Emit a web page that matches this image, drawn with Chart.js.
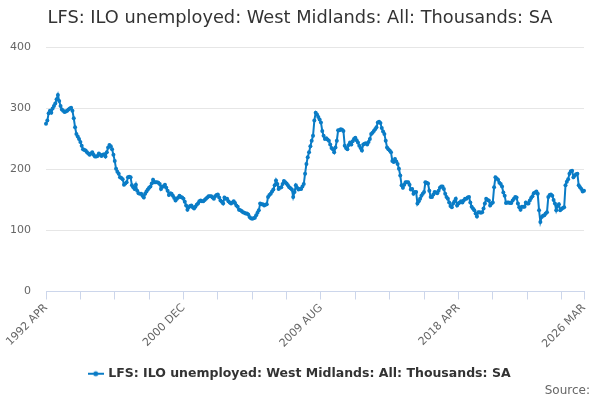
<!DOCTYPE html>
<html>
<head>
<meta charset="utf-8">
<script src="https://cdn.jsdelivr.net/npm/chart.js@4.4.1/dist/chart.umd.min.js"></script>
<style>
  html, body { margin: 0; padding: 0; background: #fff; }
  #wrap { width: 600px; height: 400px; }
</style>
</head>
<body>
<div id="wrap"><canvas id="chart" width="600" height="400"></canvas></div>
<script>
var seriesName = 'LFS: ILO unemployed: West Midlands: All: Thousands: SA';
var months = ['JAN','FEB','MAR','APR','MAY','JUN','JUL','AUG','SEP','OCT','NOV','DEC'];
var startYear = 1992, startMonth = 3; // 1992 APR
var yTicks = [0, 100, 200, 300, 400];

// monthly values, one row per year starting in April
var unemployed = [
  275, 280, 292, 296, 293, 300, 304, 308, 315, 322, 312, 304,
  298, 296, 294, 295, 296, 298, 300, 301, 296, 284, 269, 258,
  254, 250, 245, 239, 233, 232, 231, 228, 226, 224, 226, 228,
  224, 221, 221, 222, 226, 224, 222, 224, 225, 221, 228, 236,
  240, 238, 233, 224, 214, 201, 196, 193, 187, 186, 184, 175,
  177, 179, 187, 188, 187, 174, 171, 168, 175, 165, 161, 160,
  160, 157, 154, 160, 164, 167, 170, 172, 177, 183, 179, 179,
  179, 178, 176, 168, 172, 172, 175, 170, 165, 158, 161, 160,
  157, 153, 149, 152, 154, 157, 155, 154, 152, 147, 141, 134,
  138, 140, 141, 138, 136, 139, 142, 144, 148, 149, 148, 148,
  150, 152, 154, 156, 156, 156, 154, 152, 156, 158, 159, 154,
  149, 147, 144, 154, 152, 152, 148, 146, 144, 146, 148, 145,
  141, 139, 134, 133, 132, 130, 129, 128, 128, 126, 122, 120,
  119, 120, 121, 125, 129, 133, 144, 143, 143, 141, 142, 143,
  155, 158, 160, 164, 167, 174, 182, 176, 168, 170, 171, 176,
  181, 179, 177, 174, 171, 169, 167, 155, 163, 174, 170, 167,
  168, 168, 172, 176, 193, 209, 220, 228, 238, 247, 255, 280,
  293, 290, 286, 282, 277, 263, 255, 250, 251, 249, 247, 241,
  235, 233, 228, 236, 247, 264, 264, 266, 265, 263, 239, 235,
  233, 240, 244, 241, 246, 250, 252, 248, 244, 239, 235, 231,
  241, 242, 243, 241, 245, 250, 258, 260, 263, 266, 269, 277,
  278, 276, 268, 262, 258, 247, 236, 233, 231, 228, 214, 212,
  217, 213, 209, 201, 190, 174, 170, 175, 179, 179, 179, 175,
  167, 168, 160, 163, 163, 144, 148, 152, 157, 160, 163, 179,
  178, 177, 165, 155, 155, 159, 163, 162, 161, 165, 170, 172,
  172, 168, 160, 155, 152, 146, 140, 138, 144, 148, 152, 141,
  144, 146, 148, 146, 149, 152, 152, 154, 155, 146, 139, 136,
  133, 128, 123, 130, 130, 129, 130, 136, 144, 152, 150, 149,
  141, 144, 146, 171, 187, 185, 183, 178, 176, 172, 162, 157,
  145, 146, 146, 145, 145, 149, 152, 155, 154, 144, 138, 134,
  139, 139, 139, 146, 144, 144, 149, 153, 156, 161, 162, 164,
  160, 133, 114, 122, 124, 125, 128, 130, 155, 158, 159, 157,
  150, 144, 133, 140, 143, 133, 135, 137, 138, 174, 180, 184,
  193, 197, 198, 187, 190, 192, 193, 174, 171, 168, 164, 165
];

var labels = [];
for (var i = 0; i < unemployed.length; i++) {
  var m = startMonth + i;
  labels.push((startYear + Math.floor(m / 12)) + ' ' + months[m % 12]);
}
var lastIdx = labels.length - 1;

var lineColor = '#0a7cc6';

// little line + dot used as the legend symbol
var legendIcon = document.createElement('canvas');
legendIcon.width = 16; legendIcon.height = 8;
(function(){
  var c = legendIcon.getContext('2d');
  c.strokeStyle = lineColor; c.lineWidth = 2;
  c.beginPath(); c.moveTo(0, 4); c.lineTo(16, 4); c.stroke();
  c.fillStyle = lineColor;
  c.beginPath(); c.arc(8, 4, 2.5, 0, Math.PI * 2); c.fill();
})();

var sourcePlugin = {
  id: 'sourceText',
  afterDraw: function(chart){
    var c = chart.ctx;
    c.save();
    c.font = '12px "DejaVu Sans"';
    c.fillStyle = '#666666';
    c.textAlign = 'right';
    c.textBaseline = 'alphabetic';
    c.fillText('Source:', 590, 394);
    c.restore();
  }
};

var ctx = document.getElementById('chart');
var myChart = new Chart(ctx, {
  type: 'line',
  data: {
    labels: labels,
    datasets: [{
      label: seriesName,
      data: unemployed,
      borderColor: lineColor,
      backgroundColor: lineColor,
      borderWidth: 2,
      pointRadius: 2,
      pointHoverRadius: 3,
      pointBorderWidth: 0,
      tension: 0
    }]
  },
  options: {
    responsive: false,
    animation: false,
    layout: { padding: { left: 6, right: 6, top: 0, bottom: 10 } },
    plugins: {
      title: {
        display: true,
        text: seriesName,
        color: '#333333',
        font: { family: '"DejaVu Sans"', size: 17.8, weight: 'normal' },
        padding: { top: 8, bottom: 18 }
      },
      legend: {
        position: 'bottom',
        labels: {
          color: '#333333',
          font: { family: '"DejaVu Sans"', size: 12.5, weight: 'bold' },
          usePointStyle: true,
          pointStyle: legendIcon,
          padding: 8
        }
      },
      tooltip: { enabled: false }
    },
    scales: {
      x: {
        grid: {
          drawOnChartArea: false,
          drawTicks: true,
          tickLength: 8,
          tickColor: function(c){
            return (c.index % 26 === 0 || c.index === lastIdx) ? '#ccd6eb' : 'rgba(0,0,0,0)';
          }
        },
        border: { color: '#ccd6eb' },
        ticks: {
          autoSkip: false,
          maxRotation: 45,
          minRotation: 45,
          color: '#666666',
          font: { family: '"DejaVu Sans"', size: 11 },
          padding: 2,
          callback: function(val, index){
            return (index % 104 === 0 || index === lastIdx) ? labels[index] : '';
          }
        },
        afterFit: function(scale){ scale.height = 68; }
      },
      y: {
        min: 0,
        max: 400,
        afterBuildTicks: function(scale){
          scale.ticks = yTicks.map(function(v){ return { value: v }; });
        },
        grid: { color: '#e6e6e6', drawTicks: false },
        border: { display: false },
        ticks: {
          color: '#666666',
          font: { family: '"DejaVu Sans"', size: 11 },
          padding: 15
        },
        afterFit: function(scale){ scale.width = 40; }
      },
      // empty spacer on the right so the plot ends where the original does
      yRight: {
        position: 'right',
        grid: { display: false },
        border: { display: false },
        ticks: { display: false },
        afterFit: function(scale){ scale.width = 10; }
      }
    }
  },
  plugins: [sourcePlugin]
});
</script>
</body>
</html>
